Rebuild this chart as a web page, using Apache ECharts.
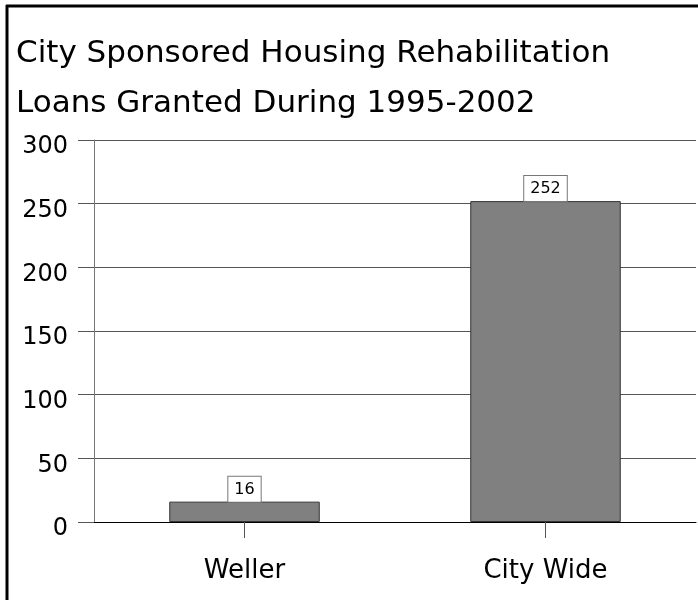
<!DOCTYPE html>
<html>
<head>
<meta charset="utf-8">
<script src="https://cdn.jsdelivr.net/npm/echarts@6/dist/echarts.min.js"></script>
<style>
  html, body { margin: 0; padding: 0; background: #fff; }
  #main { width: 698px; height: 600px; }
</style>
</head>
<body>
<div id="main"></div>
<script>
// data
const categories = ['Weller', 'City Wide']
const loans = [16, 252]
const yTicks = { min: 0, max: 300, step: 50 }

const font = "'Comic Sans MS', 'DejaVu Sans', sans-serif"

const chart = echarts.init(document.getElementById('main'))

const option = {
  backgroundColor: '#fff',
  animation: false,
  title: {
    text: 'City Sponsored Housing Rehabilitation\nLoans Granted During 1995-2002',
    left: 16,
    top: 29,
    padding: 0,
    textStyle: {
      fontFamily: font,
      fontSize: 31,
      fontWeight: 'normal',
      color: '#000',
      lineHeight: 50
    }
  },
  grid: {
    left: 94,
    right: 2,
    top: 140,
    bottom: 78
  },
  xAxis: {
    type: 'category',
    data: categories,
    axisLine: { lineStyle: { color: '#000', width: 1 } },
    axisTick: { show: true, alignWithLabel: true, length: 16, lineStyle: { color: '#555' } },
    axisLabel: { margin: 36, color: '#000', fontFamily: font, fontSize: 26 }
  },
  yAxis: {
    type: 'value',
    min: yTicks.min,
    max: yTicks.max,
    interval: yTicks.step,
    axisLine: { show: true, lineStyle: { color: '#777', width: 1 } },
    axisTick: { show: true, length: 16, lineStyle: { color: '#555' } },
    // labels sit a little below their grid line in the original
    axisLabel: {
      margin: 26,
      verticalAlign: 'top',
      lineHeight: 14,
      color: '#000',
      fontFamily: font,
      fontSize: 24
    },
    splitLine: { show: true, lineStyle: { color: '#555', width: 1 } }
  },
  series: [
    {
      type: 'bar',
      data: loans,
      barWidth: '50%',
      itemStyle: {
        color: '#808080',
        borderColor: '#333',
        borderWidth: 1
      },
      label: {
        show: true,
        position: 'top',
        distance: 0,
        color: '#000',
        fontFamily: font,
        fontSize: 16,
        backgroundColor: '#fff',
        borderColor: '#777',
        borderWidth: 1,
        padding: [5, 6, 4, 6]
      }
    }
  ],
  graphic: [
    // outer frame (left + top)
    { type: 'line', shape: { x1: 7, y1: 5, x2: 7, y2: 600 }, style: { stroke: '#000', lineWidth: 3 } },
    { type: 'line', shape: { x1: 6, y1: 6, x2: 698, y2: 6 }, style: { stroke: '#000', lineWidth: 3 } }
  ]
}

chart.setOption(option)
</script>
</body>
</html>
